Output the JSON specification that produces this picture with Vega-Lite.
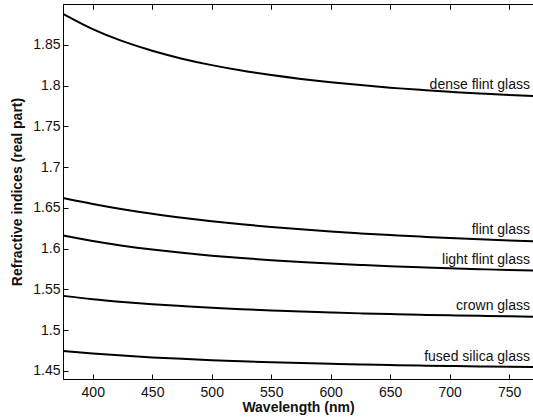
{
  "$schema": "https://vega.github.io/schema/vega-lite/v6.json",
  "width": 470,
  "height": 375,
  "autosize": {"type": "none"},
  "padding": {"left": 63, "top": 4, "right": 0, "bottom": 39},
  "background": "white",
  "config": {
    "font": "Liberation Sans",
    "view": {"stroke": "black", "strokeWidth": 1},
    "axis": {
      "grid": false,
      "domainColor": "black",
      "tickColor": "black",
      "labelColor": "#111",
      "titleColor": "#111",
      "labelFontSize": 14,
      "titleFontSize": 14,
      "titleFontWeight": "bold",
      "labelFont": "Liberation Sans",
      "titleFont": "Liberation Sans"
    },
    "axisTop": {"labels": false, "domain": false, "tickSize": -5}
  },
  "datasets": {
    "curves": [
      {"glass": "dense flint glass", "wl": 375, "n": 1.888},
      {"glass": "dense flint glass", "wl": 400, "n": 1.8692},
      {"glass": "dense flint glass", "wl": 425, "n": 1.8544},
      {"glass": "dense flint glass", "wl": 450, "n": 1.8426},
      {"glass": "dense flint glass", "wl": 475, "n": 1.8329},
      {"glass": "dense flint glass", "wl": 500, "n": 1.825},
      {"glass": "dense flint glass", "wl": 525, "n": 1.8184},
      {"glass": "dense flint glass", "wl": 550, "n": 1.8128},
      {"glass": "dense flint glass", "wl": 575, "n": 1.8081},
      {"glass": "dense flint glass", "wl": 600, "n": 1.804},
      {"glass": "dense flint glass", "wl": 625, "n": 1.8005},
      {"glass": "dense flint glass", "wl": 650, "n": 1.7974},
      {"glass": "dense flint glass", "wl": 675, "n": 1.7947},
      {"glass": "dense flint glass", "wl": 700, "n": 1.7923},
      {"glass": "dense flint glass", "wl": 725, "n": 1.7902},
      {"glass": "dense flint glass", "wl": 750, "n": 1.7884},
      {"glass": "dense flint glass", "wl": 770, "n": 1.787},
      {"glass": "flint glass", "wl": 375, "n": 1.662},
      {"glass": "flint glass", "wl": 400, "n": 1.6547},
      {"glass": "flint glass", "wl": 425, "n": 1.6483},
      {"glass": "flint glass", "wl": 450, "n": 1.6427},
      {"glass": "flint glass", "wl": 475, "n": 1.6379},
      {"glass": "flint glass", "wl": 500, "n": 1.6336},
      {"glass": "flint glass", "wl": 525, "n": 1.6298},
      {"glass": "flint glass", "wl": 550, "n": 1.6265},
      {"glass": "flint glass", "wl": 575, "n": 1.6236},
      {"glass": "flint glass", "wl": 600, "n": 1.621},
      {"glass": "flint glass", "wl": 625, "n": 1.6186},
      {"glass": "flint glass", "wl": 650, "n": 1.6165},
      {"glass": "flint glass", "wl": 675, "n": 1.6147},
      {"glass": "flint glass", "wl": 700, "n": 1.613},
      {"glass": "flint glass", "wl": 725, "n": 1.6114},
      {"glass": "flint glass", "wl": 750, "n": 1.61},
      {"glass": "flint glass", "wl": 770, "n": 1.609},
      {"glass": "light flint glass", "wl": 375, "n": 1.616},
      {"glass": "light flint glass", "wl": 400, "n": 1.6092},
      {"glass": "light flint glass", "wl": 425, "n": 1.6035},
      {"glass": "light flint glass", "wl": 450, "n": 1.5988},
      {"glass": "light flint glass", "wl": 475, "n": 1.5948},
      {"glass": "light flint glass", "wl": 500, "n": 1.5913},
      {"glass": "light flint glass", "wl": 525, "n": 1.5884},
      {"glass": "light flint glass", "wl": 550, "n": 1.5858},
      {"glass": "light flint glass", "wl": 575, "n": 1.5836},
      {"glass": "light flint glass", "wl": 600, "n": 1.5816},
      {"glass": "light flint glass", "wl": 625, "n": 1.5799},
      {"glass": "light flint glass", "wl": 650, "n": 1.5784},
      {"glass": "light flint glass", "wl": 675, "n": 1.577},
      {"glass": "light flint glass", "wl": 700, "n": 1.5758},
      {"glass": "light flint glass", "wl": 725, "n": 1.5747},
      {"glass": "light flint glass", "wl": 750, "n": 1.5737},
      {"glass": "light flint glass", "wl": 770, "n": 1.573},
      {"glass": "crown glass", "wl": 375, "n": 1.542},
      {"glass": "crown glass", "wl": 400, "n": 1.5379},
      {"glass": "crown glass", "wl": 425, "n": 1.5346},
      {"glass": "crown glass", "wl": 450, "n": 1.5317},
      {"glass": "crown glass", "wl": 475, "n": 1.5294},
      {"glass": "crown glass", "wl": 500, "n": 1.5273},
      {"glass": "crown glass", "wl": 525, "n": 1.5256},
      {"glass": "crown glass", "wl": 550, "n": 1.5241},
      {"glass": "crown glass", "wl": 575, "n": 1.5227},
      {"glass": "crown glass", "wl": 600, "n": 1.5216},
      {"glass": "crown glass", "wl": 625, "n": 1.5205},
      {"glass": "crown glass", "wl": 650, "n": 1.5196},
      {"glass": "crown glass", "wl": 675, "n": 1.5188},
      {"glass": "crown glass", "wl": 700, "n": 1.5181},
      {"glass": "crown glass", "wl": 725, "n": 1.5175},
      {"glass": "crown glass", "wl": 750, "n": 1.5169},
      {"glass": "crown glass", "wl": 770, "n": 1.5164},
      {"glass": "fused silica glass", "wl": 375, "n": 1.4745},
      {"glass": "fused silica glass", "wl": 400, "n": 1.4713},
      {"glass": "fused silica glass", "wl": 425, "n": 1.4687},
      {"glass": "fused silica glass", "wl": 450, "n": 1.4665},
      {"glass": "fused silica glass", "wl": 475, "n": 1.4647},
      {"glass": "fused silica glass", "wl": 500, "n": 1.4631},
      {"glass": "fused silica glass", "wl": 525, "n": 1.4618},
      {"glass": "fused silica glass", "wl": 550, "n": 1.4606},
      {"glass": "fused silica glass", "wl": 575, "n": 1.4596},
      {"glass": "fused silica glass", "wl": 600, "n": 1.4587},
      {"glass": "fused silica glass", "wl": 625, "n": 1.4578},
      {"glass": "fused silica glass", "wl": 650, "n": 1.4571},
      {"glass": "fused silica glass", "wl": 675, "n": 1.4565},
      {"glass": "fused silica glass", "wl": 700, "n": 1.456},
      {"glass": "fused silica glass", "wl": 725, "n": 1.4554},
      {"glass": "fused silica glass", "wl": 750, "n": 1.455},
      {"glass": "fused silica glass", "wl": 770, "n": 1.4547}
    ]
  },
  "data": {"name": "curves"},
  "layer": [
    {
      "mark": {"type": "line", "color": "black", "strokeWidth": 2, "interpolate": "natural", "clip": true},
      "encoding": {
        "x": {
          "field": "wl", "type": "quantitative",
          "scale": {"domain": [375, 770], "nice": false, "zero": false},
          "axis": {
            "title": "Wavelength (nm)",
            "values": [400, 450, 500, 550, 600, 650, 700, 750],
            "tickSize": -5,
            "labelPadding": 11,
            "titlePadding": 1
          }
        },
        "y": {
          "field": "n", "type": "quantitative",
          "scale": {"domain": [1.44, 1.9], "nice": false, "zero": false},
          "axis": {
            "title": "Refractive indices (real part)",
            "values": [1.45, 1.5, 1.55, 1.6, 1.65, 1.7, 1.75, 1.8, 1.85],
            "format": ".2~f",
            "tickSize": -5,
            "labelPadding": 8,
            "titlePadding": 8
          }
        },
        "detail": {"field": "glass", "type": "nominal"}
      }
    },
    {
      "transform": [{"filter": "datum.wl === 750"}],
      "mark": {"type": "text", "align": "right", "baseline": "alphabetic", "dx": -3, "dy": -6, "fontSize": 14, "font": "Liberation Sans", "color": "#111"},
      "encoding": {
        "x": {"datum": 770, "type": "quantitative"},
        "y": {"field": "n", "type": "quantitative"},
        "text": {"field": "glass", "type": "nominal"}
      }
    },
    {
      "transform": [{"filter": "datum.wl === 400 && datum.glass === 'crown glass'"}],
      "mark": {"type": "point", "opacity": 0, "size": 0},
      "encoding": {
        "x": {"field": "wl", "type": "quantitative", "axis": {"orient": "top", "labels": false, "title": null, "domain": false, "tickSize": -5, "values": [400, 450, 500, 550, 600, 650, 700, 750]}}
      }
    }
  ],
  "resolve": {"axis": {"x": "independent"}}
}
